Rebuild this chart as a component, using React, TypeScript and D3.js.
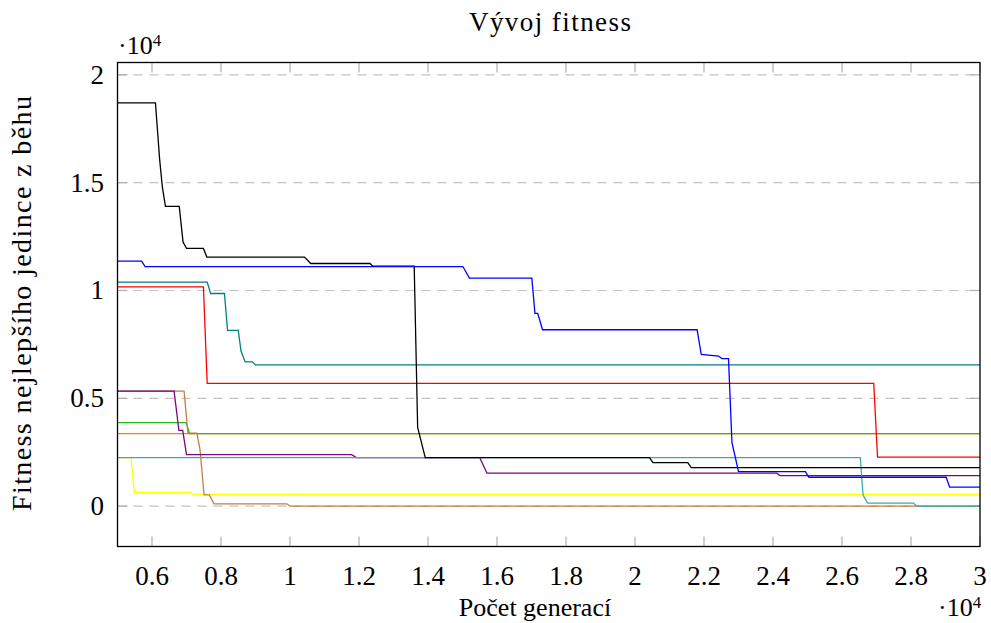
import * as d3 from "d3";
import { useEffect, useRef } from "react";

// generations x fitness
const orange: [number, number][] = [[5000, 3360], [30000, 3360]];
const green: [number, number][] = [[5000, 3870], [6990, 3870], [7090, 3360], [30000, 3360]];
const yellow: [number, number][] = [[5000, 2250], [5390, 2250], [5490, 630], [7100, 630], [7200, 550], [30000, 550]];
const brown: [number, number][] = [
  [5000, 5330], [6930, 5330], [7040, 3390], [7300, 3390], [7390, 2650], [7510, 520],
  [7660, 520], [7800, 110], [9910, 110], [10000, 0], [30000, 0],
];
const purple: [number, number][] = [
  [5000, 5330], [6640, 5330], [6780, 3510], [6890, 3510], [7000, 2390], [11790, 2390],
  [11920, 2250], [15500, 2250], [15710, 1530], [24110, 1530], [24200, 1420], [30000, 1420],
];
const teal2: [number, number][] = [
  [5000, 2250], [26530, 2250], [26610, 520], [26740, 140], [28070, 140], [28170, 0], [30000, 0],
];
const red: [number, number][] = [[5000, 10170], [7490, 10170], [7600, 5690], [26920, 5690], [27030, 2270], [30000, 2270]];
const teal1: [number, number][] = [
  [5000, 10390], [7600, 10390], [7700, 9860], [8100, 9860], [8190, 8150], [8500, 8150],
  [8580, 7190], [8700, 6690], [8910, 6690], [9000, 6550], [30000, 6550],
];
const black: [number, number][] = [
  [5000, 18700], [6100, 18700], [6220, 16100], [6300, 14800], [6390, 13900], [6790, 13900],
  [6900, 12250], [7000, 11950], [7490, 11950], [7590, 11550], [10420, 11550], [10600, 11250],
  [12320, 11250], [12400, 11130], [13600, 11130], [13700, 3650], [13920, 2250], [20420, 2250],
  [20520, 2020], [21530, 2020], [21630, 1790], [30000, 1790],
];
const blue: [number, number][] = [
  [5000, 11360], [5700, 11360], [5800, 11110], [15010, 11110], [15200, 10570], [17010, 10570],
  [17100, 8940], [17180, 8940], [17320, 8180], [21800, 8180], [21920, 7040], [22420, 6960],
  [22520, 6840], [22710, 6840], [22810, 2960], [23000, 1600], [24940, 1600], [25040, 1340],
  [29020, 1340], [29120, 880], [30000, 880],
];

const series = [
  { data: orange, color: "#ff8000" },
  { data: green, color: "#1fbf1f" },
  { data: yellow, color: "#ffff00" },
  { data: brown, color: "#bf8040" },
  { data: purple, color: "#800080" },
  { data: teal2, color: "#40a8a8" },
  { data: red, color: "#ff0000" },
  { data: teal1, color: "#008080" },
  { data: black, color: "#000000" },
  { data: blue, color: "#0000ff" },
];

const xTicks = [6000, 8000, 10000, 12000, 14000, 16000, 18000, 20000, 22000, 24000, 26000, 28000, 30000];
const yTicks = [0, 5000, 10000, 15000, 20000];

const W = 991;
const H = 623;
const FONT = "'Liberation Serif', 'DejaVu Serif', serif";

export default function App() {
  const ref = useRef<SVGSVGElement>(null);

  useEffect(() => {
    const svg = d3.select(ref.current);
    svg.selectAll("*").remove();

    const left = 117.5, right = 980, top = 62.5, bottom = 546.5;
    const x = d3.scaleLinear().domain([5000, 30000]).range([left, right]);
    const y = d3.scaleLinear().domain([-1870, 20570]).range([bottom, top]);

    // grid
    svg.append("g")
      .selectAll("line")
      .data(yTicks)
      .enter()
      .append("line")
      .attr("x1", left).attr("x2", right)
      .attr("y1", (d) => y(d)).attr("y2", (d) => y(d))
      .attr("stroke", "#c4c4c4")
      .attr("stroke-width", 1.2)
      .attr("stroke-dasharray", "9,7");

    // inner ticks, both sides
    const tickLen = 10;
    const tg = svg.append("g").attr("stroke", "#b0b0b0").attr("stroke-width", 1.2);
    xTicks.forEach((t) => {
      tg.append("line").attr("x1", x(t)).attr("x2", x(t)).attr("y1", bottom).attr("y2", bottom - tickLen);
      tg.append("line").attr("x1", x(t)).attr("x2", x(t)).attr("y1", top).attr("y2", top + tickLen);
    });
    yTicks.forEach((t) => {
      tg.append("line").attr("x1", left).attr("x2", left + tickLen).attr("y1", y(t)).attr("y2", y(t));
      tg.append("line").attr("x1", right).attr("x2", right - tickLen).attr("y1", y(t)).attr("y2", y(t));
    });

    // series
    const line = d3.line<[number, number]>().x((d) => x(d[0])).y((d) => y(d[1]));
    svg.append("g")
      .selectAll("path")
      .data(series)
      .enter()
      .append("path")
      .attr("d", (d) => line(d.data))
      .attr("fill", "none")
      .attr("stroke", (d) => d.color)
      .attr("stroke-width", 1.3);

    // frame
    svg.append("rect")
      .attr("x", left).attr("y", top)
      .attr("width", right - left).attr("height", bottom - top)
      .attr("fill", "none").attr("stroke", "#000").attr("stroke-width", 1.3);

    // tick labels
    const txt = svg.append("g").attr("font-family", FONT).attr("font-size", 27).attr("fill", "#000");
    txt.selectAll(".xl")
      .data(xTicks)
      .enter()
      .append("text")
      .attr("x", (d) => x(d))
      .attr("y", 585)
      .attr("text-anchor", "middle")
      .text((d) => d3.format("~g")(d / 10000));
    txt.selectAll(".yl")
      .data(yTicks)
      .enter()
      .append("text")
      .attr("x", 104)
      .attr("y", (d) => y(d) + 9)
      .attr("text-anchor", "end")
      .text((d) => d3.format("~g")(d / 10000));

    // multipliers
    const mult = (mx: number, my: number) => {
      const t = txt.append("text").attr("x", mx).attr("y", my).attr("font-size", 26);
      t.append("tspan").text("·10");
      t.append("tspan").attr("font-size", 17).attr("dy", -8).text("4");
    };
    mult(118, 54);
    mult(938, 616);

    // titles
    txt.append("text")
      .attr("x", 550).attr("y", 31)
      .attr("text-anchor", "middle")
      .attr("textLength", 162)
      .attr("lengthAdjust", "spacing")
      .text("Vývoj fitness");
    txt.append("text")
      .attr("x", 535).attr("y", 616)
      .attr("text-anchor", "middle")
      .attr("font-size", 26)
      .text("Počet generací");
    txt.append("text")
      .attr("transform", `translate(31, ${(top + bottom) / 2 - 1}) rotate(-90)`)
      .attr("text-anchor", "middle")
      .attr("font-size", 28)
      .attr("textLength", 415)
      .attr("lengthAdjust", "spacing")
      .text("Fitness nejlepšího jedince z běhu");
  }, []);

  return (
    <svg
      ref={ref}
      width={W}
      height={H}
      style={{ position: "absolute", left: 0, top: 0, background: "#fff" }}
    />
  );
}
